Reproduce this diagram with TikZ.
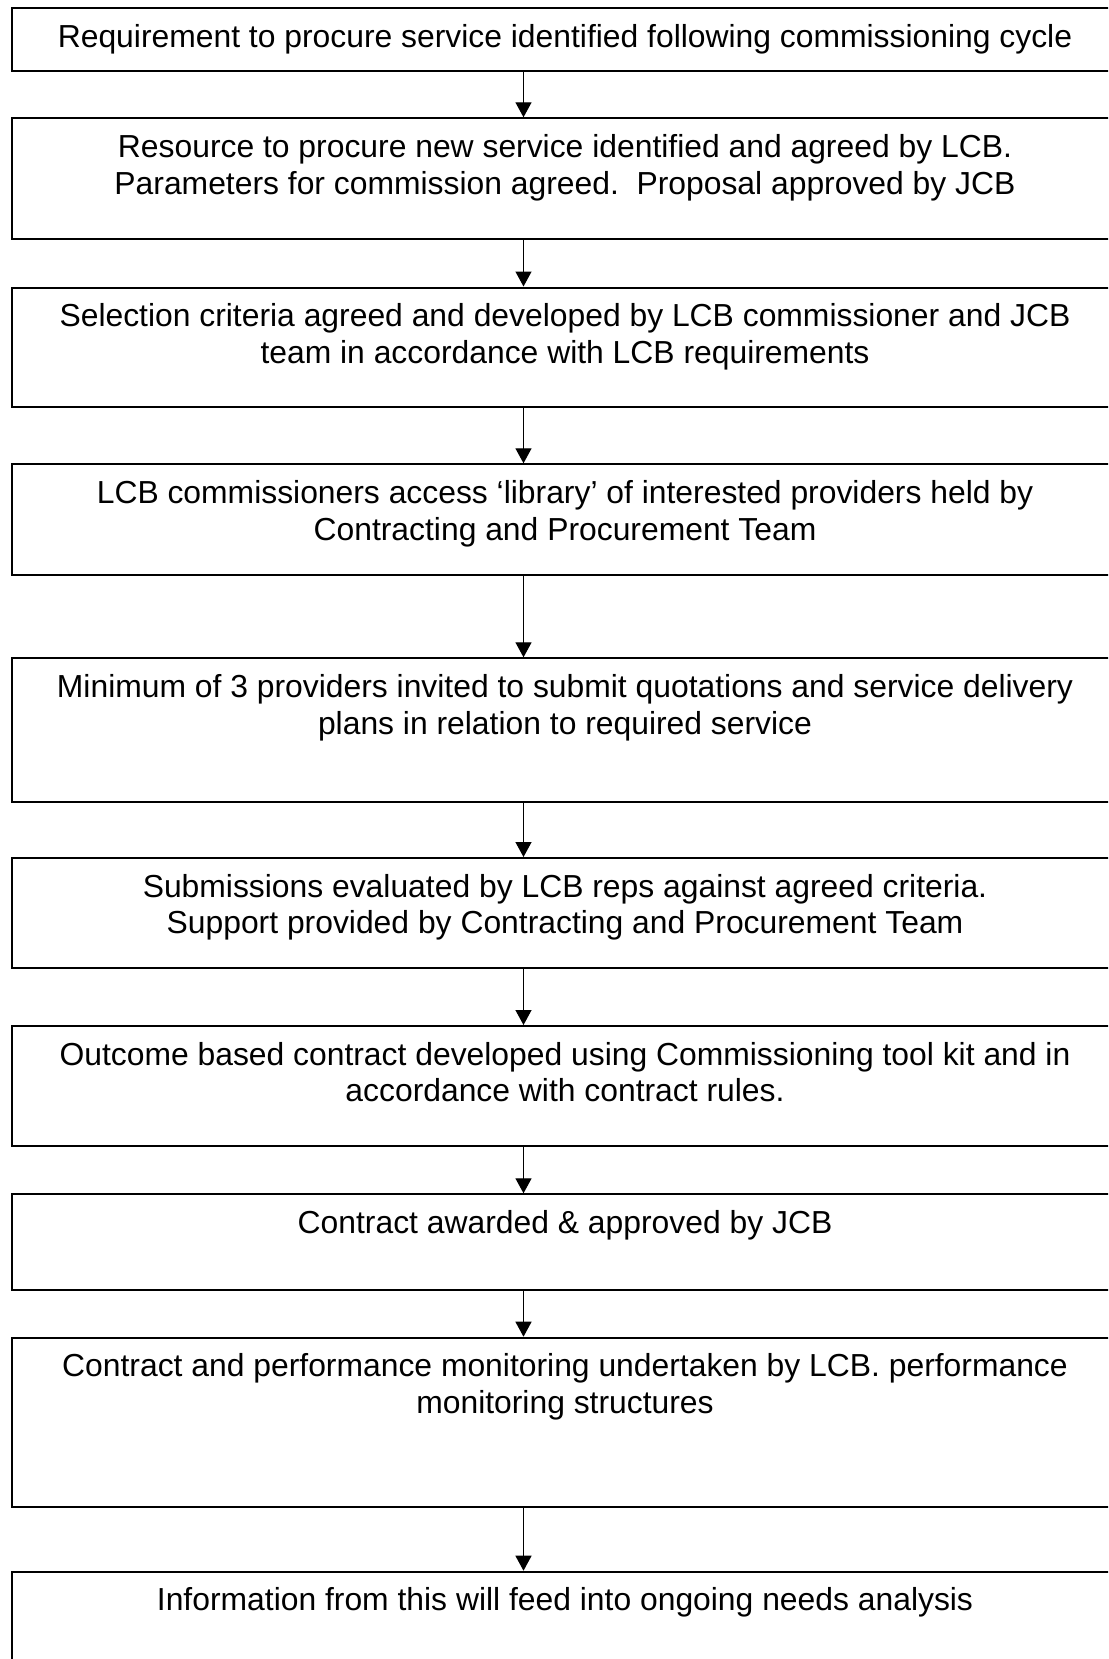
\documentclass[tikz,border=0pt]{standalone}
\usepackage{fontspec}
\setmainfont{Liberation Sans}
\usetikzlibrary{arrows.meta,calc}

\tikzset{
  stepbox/.style={draw=black, line width=2pt, fill=none, rectangle,
    inner sep=0pt, anchor=north west, minimum width=1106pt},
  steptext/.style={anchor=north, inner sep=0pt, align=center,
    font=\fontsize{31.85pt}{36.6pt}\selectfont},
  flow/.style={draw=black, line width=1.3pt,
    -{Triangle[width=16pt,length=15pt]}}
}

% place a box from its top edge and height
\newcommand{\flowbox}[4]{%
  \node[stepbox, minimum height=#3pt] (#1) at (11,#2) {};
  \node[steptext] (#1t) at ($(#1.north)+(0,17)$) {#4};
}

\begin{document}
\begin{tikzpicture}[x=1pt,y=-1pt]
  \clip (0,0) rectangle (1108,1659);
  \fill[white] (0,0) rectangle (1108,1659);

  \coordinate (ax) at (523.5,0);

  \flowbox{b1}{7.5}{62.5}{Requirement to procure service identified following commissioning cycle}
  \flowbox{b2}{117.3}{120.4}{Resource to procure new service identified and agreed by LCB.\\Parameters for commission agreed.\ \ Proposal approved by JCB}
  \flowbox{b3}{286.5}{119.5}{Selection criteria agreed and developed by LCB commissioner and JCB\\team in accordance with LCB requirements}
  \flowbox{b4}{463.3}{110.7}{LCB commissioners access ‘library’ of interested providers held by\\Contracting and Procurement Team}
  \flowbox{b5}{657.3}{143.4}{Minimum of 3 providers invited to submit quotations and service delivery\\plans in relation to required service}
  \flowbox{b6}{857}{109.7}{Submissions evaluated by LCB reps against agreed criteria.\\Support provided by Contracting and Procurement Team}
  \flowbox{b7}{1025}{120}{Outcome based contract developed using Commissioning tool kit and in\\accordance with contract rules.}
  \flowbox{b8}{1193.3}{96}{Contract awarded \& approved by JCB}
  \flowbox{b9}{1336.7}{169.3}{Contract and performance monitoring undertaken by LCB. performance\\monitoring structures}
  \flowbox{b10}{1570.7}{140}{Information from this will feed into ongoing needs analysis}

  \foreach \a/\b in {b1/b2,b2/b3,b3/b4,b4/b5,b5/b6,b6/b7,b7/b8,b8/b9,b9/b10}
    \draw[flow] (\a.south -| ax) -- (\b.north -| ax);
\end{tikzpicture}
\end{document}
